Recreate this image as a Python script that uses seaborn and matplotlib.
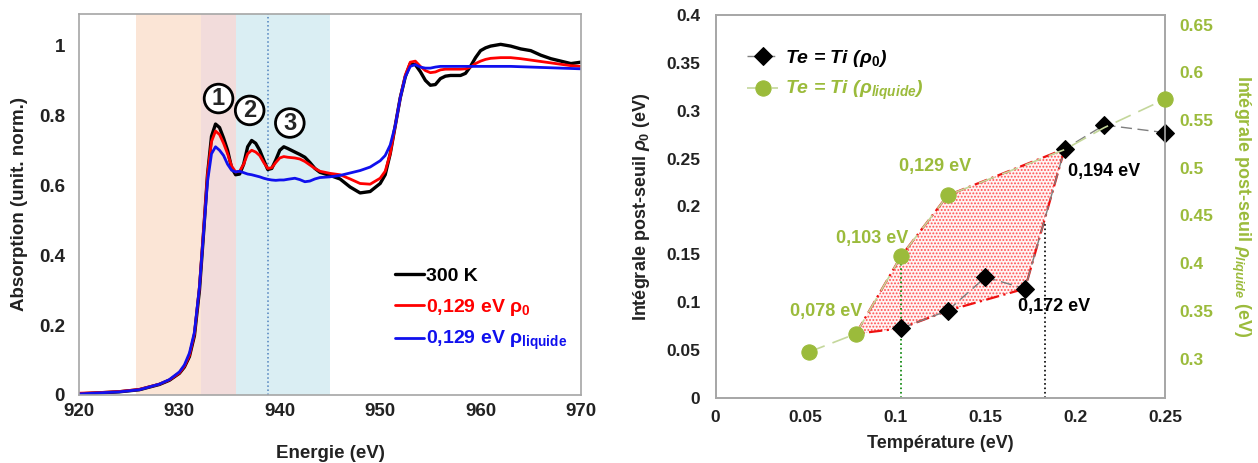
import numpy as np
import pandas as pd
import matplotlib.pyplot as plt
import seaborn as sns

# ---- panel (a) : XANES spectra ----
energie = [920, 922, 924, 926, 928, 929, 930, 930.5, 931, 931.5, 932, 932.4, 932.8,
           933.2, 933.6, 934, 934.4, 934.8, 935.2, 935.6, 936, 936.4, 936.8, 937.2,
           937.6, 938, 938.4, 938.8, 939.2, 939.6, 940, 940.4, 940.8, 941.5, 942,
           942.5, 943, 943.5, 944, 945, 946, 947, 948, 949, 950, 950.5, 951, 951.5,
           952, 952.5, 953, 953.5, 954, 954.5, 955, 955.5, 956, 956.5, 957, 958,
           958.5, 959, 959.5, 960, 960.5, 961, 962, 963, 964, 965, 966, 967, 968,
           969, 970]
abs_300K = [0.003, 0.006, 0.009, 0.015, 0.03, 0.042, 0.062, 0.08, 0.11, 0.17, 0.30,
            0.46, 0.63, 0.74, 0.775, 0.765, 0.735, 0.70, 0.65, 0.63, 0.632, 0.66,
            0.71, 0.728, 0.72, 0.70, 0.672, 0.645, 0.648, 0.672, 0.70, 0.71, 0.705,
            0.695, 0.688, 0.68, 0.665, 0.648, 0.637, 0.628, 0.618, 0.595, 0.578,
            0.582, 0.605, 0.63, 0.69, 0.77, 0.85, 0.91, 0.948, 0.945, 0.925, 0.90,
            0.886, 0.888, 0.905, 0.912, 0.914, 0.914, 0.92, 0.94, 0.965, 0.985,
            0.993, 0.998, 1.003, 0.998, 0.99, 0.985, 0.972, 0.962, 0.955, 0.948, 0.952]
abs_rho0 = [0.005, 0.007, 0.01, 0.016, 0.031, 0.043, 0.063, 0.082, 0.113, 0.175, 0.31,
            0.47, 0.63, 0.725, 0.755, 0.745, 0.72, 0.69, 0.655, 0.638, 0.64, 0.66,
            0.69, 0.70, 0.695, 0.685, 0.665, 0.648, 0.65, 0.665, 0.678, 0.682, 0.68,
            0.678, 0.675, 0.668, 0.658, 0.648, 0.64, 0.634, 0.63, 0.618, 0.605,
            0.603, 0.62, 0.64, 0.69, 0.77, 0.85, 0.915, 0.952, 0.955, 0.94, 0.928,
            0.922, 0.924, 0.93, 0.932, 0.932, 0.932, 0.933, 0.938, 0.948, 0.955,
            0.96, 0.963, 0.965, 0.965, 0.962, 0.958, 0.954, 0.95, 0.946, 0.942, 0.94]
abs_liq = [0.003, 0.006, 0.009, 0.015, 0.031, 0.044, 0.066, 0.086, 0.12, 0.18, 0.31,
           0.46, 0.61, 0.69, 0.71, 0.70, 0.685, 0.66, 0.643, 0.638, 0.64, 0.636,
           0.632, 0.63, 0.627, 0.624, 0.62, 0.617, 0.615, 0.614, 0.615, 0.615, 0.617,
           0.62, 0.616, 0.61, 0.612, 0.618, 0.622, 0.624, 0.628, 0.635, 0.642, 0.652,
           0.67, 0.685, 0.715, 0.77, 0.85, 0.91, 0.94, 0.945, 0.938, 0.935, 0.935,
           0.938, 0.94, 0.94, 0.94, 0.94, 0.94, 0.94, 0.94, 0.94, 0.94, 0.94, 0.94,
           0.94, 0.939, 0.938, 0.937, 0.936, 0.935, 0.934, 0.933]

bandes = [(925.7, 932.2, '#fbe5d6'), (932.2, 935.6, '#f2dcdb'), (935.6, 945.0, '#daeef3')]
e_ligne = 938.8
pics = ['1', '2', '3']
pics_x = [933.9, 937.0, 941.0]
pics_y = [0.848, 0.814, 0.778]

# ---- panel (b) : post-edge integral vs temperature ----
T_rho0 = [0.103, 0.129, 0.150, 0.172, 0.194, 0.216, 0.250]
I_rho0 = [0.0725, 0.091, 0.126, 0.114, 0.260, 0.285, 0.277]
T_liq = [0.052, 0.078, 0.103, 0.129, 0.194, 0.216, 0.250]
I_liq = [0.307, 0.326, 0.407, 0.471, 0.519, 0.542, 0.572]
T_croise = 0.183
I_croise = 0.183

lims_droite = (0.259, 0.66)

sns.set_theme(style='white')
plt.rcParams['font.family'] = ['Liberation Sans', 'DejaVu Sans']
plt.rcParams['font.weight'] = 'bold'
plt.rcParams['axes.labelweight'] = 'bold'
plt.rcParams['mathtext.fontset'] = 'custom'
plt.rcParams['mathtext.rm'] = 'Liberation Sans'
plt.rcParams['mathtext.it'] = 'Liberation Sans:italic'
plt.rcParams['mathtext.bf'] = 'Liberation Sans:bold'
plt.rcParams['hatch.linewidth'] = 0.9
plt.rcParams['hatch.color'] = '#ff5050'

fig = plt.figure(figsize=(12.58, 4.63), dpi=100)
ax1 = fig.add_axes([0.0628, 0.1469, 0.399, 0.823])
ax2 = fig.add_axes([0.5688, 0.141, 0.3576, 0.8266])
ax3 = ax2.twinx()

gris = '#a6a6a6'
vert = '#9bbb3b'

# ================= panel (a) =================
for e0, e1, c in bandes:
    ax1.axvspan(e0, e1, color=c, lw=0, zorder=0)
ax1.axvline(e_ligne, color='#4f81bd', ls=':', lw=1.1, zorder=1)

sns.lineplot(x=energie, y=abs_300K, color='black', lw=2.4, ax=ax1, label='300 K')
sns.lineplot(x=energie, y=abs_rho0, color='red', lw=2.0, ax=ax1,
             label=r'0,129 eV ρ$_{\mathbf{0}}$')
sns.lineplot(x=energie, y=abs_liq, color='#1010ee', lw=2.0, ax=ax1,
             label=r'0,129 eV ρ$_{\mathbf{liquide}}$')

# numéros de pics entourés
for s, x, y in zip(pics, pics_x, pics_y):
    ax1.text(x, y, s, fontsize=17, ha='center', va='center', fontweight='bold',
             bbox=dict(boxstyle='circle,pad=0.12', fc='white', ec='black', lw=2.0))

ax1.set_xlim(920, 970)
ax1.set_ylim(0, 1.09)
ax1.set_xticks([920, 930, 940, 950, 960, 970])
ax1.set_yticks([0, 0.2, 0.4, 0.6, 0.8, 1.0])
ax1.set_yticklabels(['0', '0.2', '0.4', '0.6', '0.8', '1'])
ax1.tick_params(axis='both', length=0, labelsize=13.5, colors='#222222')
ax1.tick_params(axis='x', pad=6)
ax1.tick_params(axis='y', pad=10)
ax1.set_xlabel('Energie (eV)', fontsize=13.5, labelpad=18, color='#222222')
ax1.set_ylabel('Absorption (unit. norm.)', fontsize=13.5, labelpad=8, color='#222222')
for sp in ax1.spines.values():
    sp.set_color(gris)
    sp.set_linewidth(1.2)

leg = ax1.legend(loc='upper left', bbox_to_anchor=(0.63, 0.335), frameon=False,
                 fontsize=14, handlelength=1.5, handletextpad=0.1, labelspacing=0.6,
                 borderpad=0, borderaxespad=0)
for txt, c in zip(leg.get_texts(), ['black', 'red', '#1010ee']):
    txt.set_color(c)
    txt.set_fontweight('bold')

# ================= panel (b) =================
def vers_gauche(v):
    return (v - lims_droite[0]) / (lims_droite[1] - lims_droite[0]) * 0.4

poly_x = [T_liq[1], T_liq[2], T_liq[3], T_rho0[4], T_rho0[3], T_rho0[1], T_rho0[0], T_liq[1]]
poly_y = [vers_gauche(I_liq[1]), vers_gauche(I_liq[2]), vers_gauche(I_liq[3]),
          I_rho0[4], I_rho0[3], I_rho0[1], I_rho0[0], vers_gauche(I_liq[1])]
ax2.fill(poly_x, poly_y, facecolor='#fff4f4', edgecolor='#ff5050', hatch='.....',
         lw=0, zorder=1)
ax2.plot(poly_x, poly_y, color='#ee1111', ls=(0, (6, 2, 1, 2)), lw=1.6, zorder=2)

ax2.vlines(T_liq[2], 0, vers_gauche(I_liq[2]), colors='#008000', linestyles=':', lw=1.2, zorder=2)
ax2.vlines(T_croise, 0, I_croise, colors='black', linestyles=':', lw=1.2, zorder=2)

sns.lineplot(x=T_rho0, y=I_rho0, ax=ax2, color='#7f7f7f', lw=1.0, ls=(0, (8, 4)),
             marker='D', markersize=9, markerfacecolor='black', markeredgecolor='black',
             label=r'Te = Ti ($\rho_{0}$)', legend=False, zorder=4, clip_on=False)
sns.lineplot(x=T_liq, y=I_liq, ax=ax3, color='#c4d79b', lw=1.2, ls=(0, (10, 5)),
             marker='o', markersize=11, markerfacecolor=vert, markeredgecolor=vert,
             markevery=[0, 1, 2, 3, 6], label=r'Te = Ti ($\rho_{liquide}$)',
             legend=False, zorder=3, clip_on=False)

ax2.text(0.0617, 0.0899, '0,078 eV', color=vert, fontsize=13, ha='center', va='center')
ax2.text(0.087, 0.166, '0,103 eV', color=vert, fontsize=13, ha='center', va='center')
ax2.text(0.122, 0.2415, '0,129 eV', color=vert, fontsize=13, ha='center', va='center')
ax2.text(0.216, 0.236, '0,194 eV', color='black', fontsize=13, ha='center', va='center')
ax2.text(0.188, 0.095, '0,172 eV', color='black', fontsize=13, ha='center', va='center')

ax2.set_xlim(0, 0.25)
ax2.set_ylim(0, 0.4)
ax3.set_ylim(*lims_droite)
ax2.set_xticks([0, 0.05, 0.1, 0.15, 0.2, 0.25])
ax2.set_xticklabels(['0', '0.05', '0.1', '0.15', '0.2', '0.25'])
ax2.set_yticks([0, 0.05, 0.1, 0.15, 0.2, 0.25, 0.3, 0.35, 0.4])
ax2.set_yticklabels(['0', '0.05', '0.1', '0.15', '0.2', '0.25', '0.3', '0.35', '0.4'])
ax3.set_yticks([0.3, 0.35, 0.4, 0.45, 0.5, 0.55, 0.6, 0.65])
ax3.set_yticklabels(['0.3', '0.35', '0.4', '0.45', '0.5', '0.55', '0.6', '0.65'])
ax2.tick_params(axis='both', length=0, labelsize=12.5, colors='#222222')
ax2.tick_params(axis='x', pad=9)
ax2.tick_params(axis='y', pad=11)
ax3.tick_params(axis='y', length=0, labelsize=12.5, colors=vert, pad=10)
ax2.set_xlabel('Température (eV)', fontsize=13, labelpad=7, color='#222222')
ax2.set_ylabel(r'Intégrale post-seuil $\rho_{0}$ (eV)', fontsize=13, labelpad=10,
               color='#222222')
ax3.set_ylabel(r'Intégrale post-seuil $\rho_{liquide}$ (eV)', fontsize=13, color=vert,
               rotation=270, labelpad=28)
for a in (ax2, ax3):
    for sp in a.spines.values():
        sp.set_color(gris)
        sp.set_linewidth(1.2)

h2, l2 = ax2.get_legend_handles_labels()
h3, l3 = ax3.get_legend_handles_labels()
leg2 = ax3.legend(h2 + h3, l2 + l3, loc='upper left', bbox_to_anchor=(0.07, 0.915),
                  frameon=False, fontsize=14, handlelength=1.6, handletextpad=0.35,
                  labelspacing=0.55, borderpad=0, borderaxespad=0)
for txt, c in zip(leg2.get_texts(), ['black', vert]):
    txt.set_color(c)
    txt.set_fontstyle('italic')
    txt.set_fontweight('bold')

fig.savefig('out.png', dpi=100)
